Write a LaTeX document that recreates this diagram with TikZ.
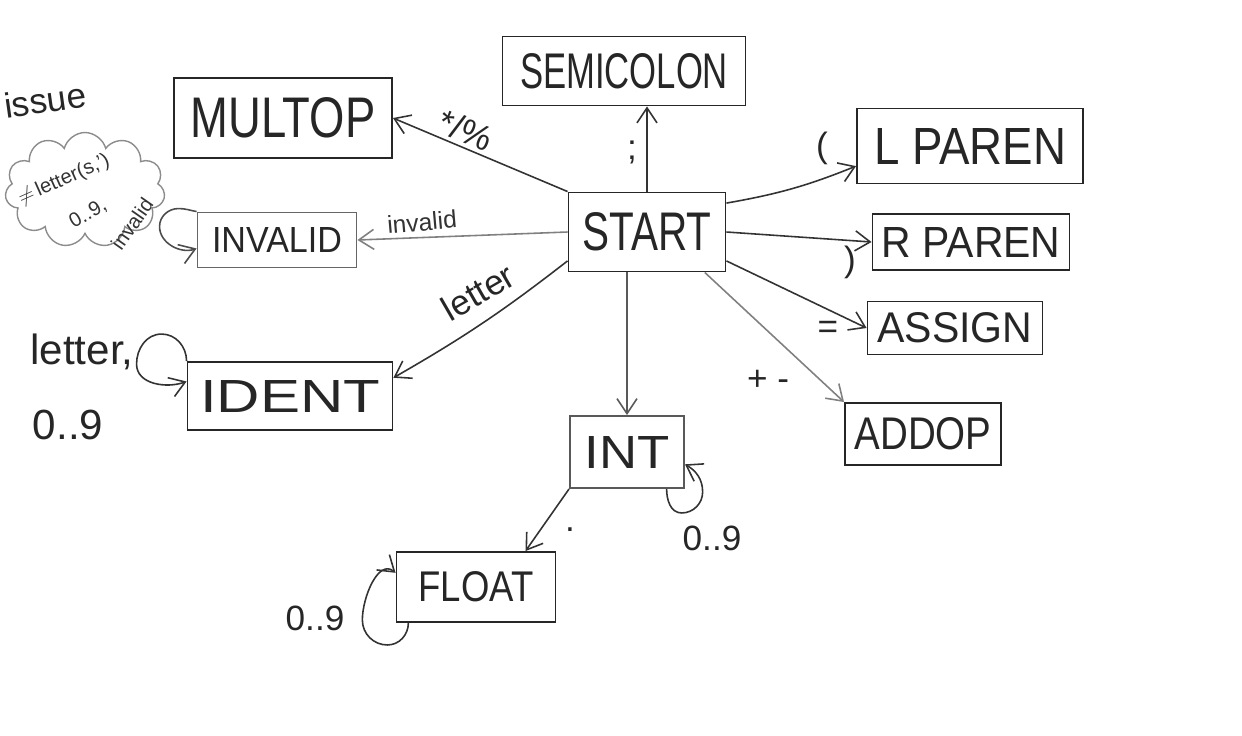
\documentclass[tikz,border=0pt]{standalone}
\usepackage{fontspec}
\setmainfont{Liberation Sans}
\usetikzlibrary{arrows.meta,shapes.symbols}
\newcommand\lbl[3]{\resizebox{#1cm}{#2cm}{#3}}
\begin{document}
\begin{tikzpicture}[x=0.02cm,y=-0.02cm,
  box/.style={draw=black!85,line width=1.1pt,inner sep=0pt,text=black!85},
  arr/.style={-{Straight Barb[length=3mm,width=4mm]},line width=0.9pt,draw=black!80},
  lightarr/.style={arr,draw=black!50},
  lab/.style={font=\fontsize{20}{24}\selectfont,text=black!85,inner sep=1pt},
  small/.style={font=\fontsize{14}{16}\selectfont,text=black!80,inner sep=1pt},
  tiny/.style={font=\fontsize{11.5}{13}\selectfont,text=black!80,inner sep=0pt}]
\useasboundingbox (0,0) rectangle (1242,735);

% boxes
\node[box,minimum width=4.86cm,minimum height=1.38cm] (semi) at (624,71) {\lbl{4.16}{0.70}{SEMICOLON}};
\node[box,minimum width=4.36cm,minimum height=1.60cm] (mult) at (283,118) {\lbl{3.70}{0.80}{MULTOP}};
\node[box,minimum width=4.52cm,minimum height=1.50cm] (lpar) at (970,146) {\lbl{3.84}{0.72}{L PAREN}};
\node[box,minimum width=3.14cm,minimum height=1.58cm] (start) at (647,232) {\lbl{2.58}{0.76}{START}};
\node[box,draw=black!60,minimum width=3.18cm,minimum height=1.10cm] (inv) at (277,240) {\lbl{2.60}{0.50}{INVALID}};
\node[box,minimum width=3.94cm,minimum height=1.12cm] (rpar) at (971,242) {\lbl{3.58}{0.60}{R PAREN}};
\node[box,minimum width=3.50cm,minimum height=1.06cm] (asg) at (955,328) {\lbl{3.10}{0.60}{ASSIGN}};
\node[box,minimum width=4.10cm,minimum height=1.36cm] (ident) at (290,396) {\lbl{3.60}{0.64}{IDENT}};
\node[box,minimum width=3.12cm,minimum height=1.24cm] (add) at (923,434) {\lbl{2.74}{0.64}{ADDOP}};
\node[box,draw=black!65,minimum width=2.28cm,minimum height=1.44cm] (int) at (627,452) {\lbl{1.70}{0.64}{INT}};
\node[box,minimum width=3.18cm,minimum height=1.40cm] (float) at (476,587) {\lbl{2.30}{0.60}{FLOAT}};

% cloud and note
\node[cloud,draw=black!45,line width=0.8pt,cloud puffs=11,aspect=1.4,minimum width=3.2cm,minimum height=2.3cm] (cloud) at (85,190) {};
\node[lab,rotate=8] (issue) at (45,100) {issue};
\node[tiny,rotate=24] (c1) at (64,180) {$\neq$\,letter(s,')};
\node[tiny,rotate=30] (c2) at (88,214) {0..9,};
\node[tiny,rotate=55] (c3) at (132,224) {invalid};

% transitions from START
\draw[arr] (start.north) -- (semi.south -| start.north);
\draw[arr] (start.north west) -- (mult.east);
\draw[arr] (start.20) to[bend right=6] (lpar.190);
\draw[arr] (start.east) -- (rpar.west);
\draw[arr] (start.-20) -- (asg.west);
\draw[lightarr] (start.-35) -- (add.north west);
\draw[arr,draw=black!65] (int.north |- start.south) -- (int.north);
\draw[arr] (start.200) to[bend left=4] (ident.10);
\draw[lightarr] (start.west) -- (inv.east);
\draw[arr] (int.south west) -- (float.36);

% self loops
\draw[arr] (int.-43) to[out=-90,in=180] ++(15,24) to[out=0,in=-90] ++(21,-21) to[out=90,in=-30] (int.-12);
\draw[arr] (ident.north west) to[out=90,in=0] ++(-25,-27) to[out=180,in=90] ++(-25,30) to[out=-90,in=200] (ident.172);
\draw[arr,draw=black!70] (inv.north west) to[out=170,in=0] ++(-18,-3) to[out=180,in=90] ++(-19,18) to[out=-90,in=200] (inv.186);
\draw[arr] (float.-152) to[out=-90,in=0] ++(-21,22) to[out=180,in=-90] ++(-25,-25) to[out=90,in=140] (float.170);

% labels
\node[lab] (lsemi) at (632,152) {;};
\node[lab,rotate=-22] (lmult) at (466,130) {*/\%};
\node[lab] (llpar) at (822,148) {(};
\node[lab] (lrpar) at (850,262) {)};
\node[lab] (lasg) at (828,330) {=};
\node[lab] (ladd) at (768,380) {+ -};
\node[small,rotate=5] (linv) at (422,222) {invalid};
\node[lab,rotate=30] (lident) at (478,292) {letter};
\node[lab] (ldot) at (570,530) {.};
\node[lab] (lint) at (712,538) {0..9};
\node[lab] (lfloat) at (315,618) {0..9};
\node[lab,font=\fontsize{24}{28}\selectfont] (lid1) at (82,352) {letter,};
\node[lab,font=\fontsize{24}{28}\selectfont] (lid2) at (68,425) {0..9};
\end{tikzpicture}
\end{document}
